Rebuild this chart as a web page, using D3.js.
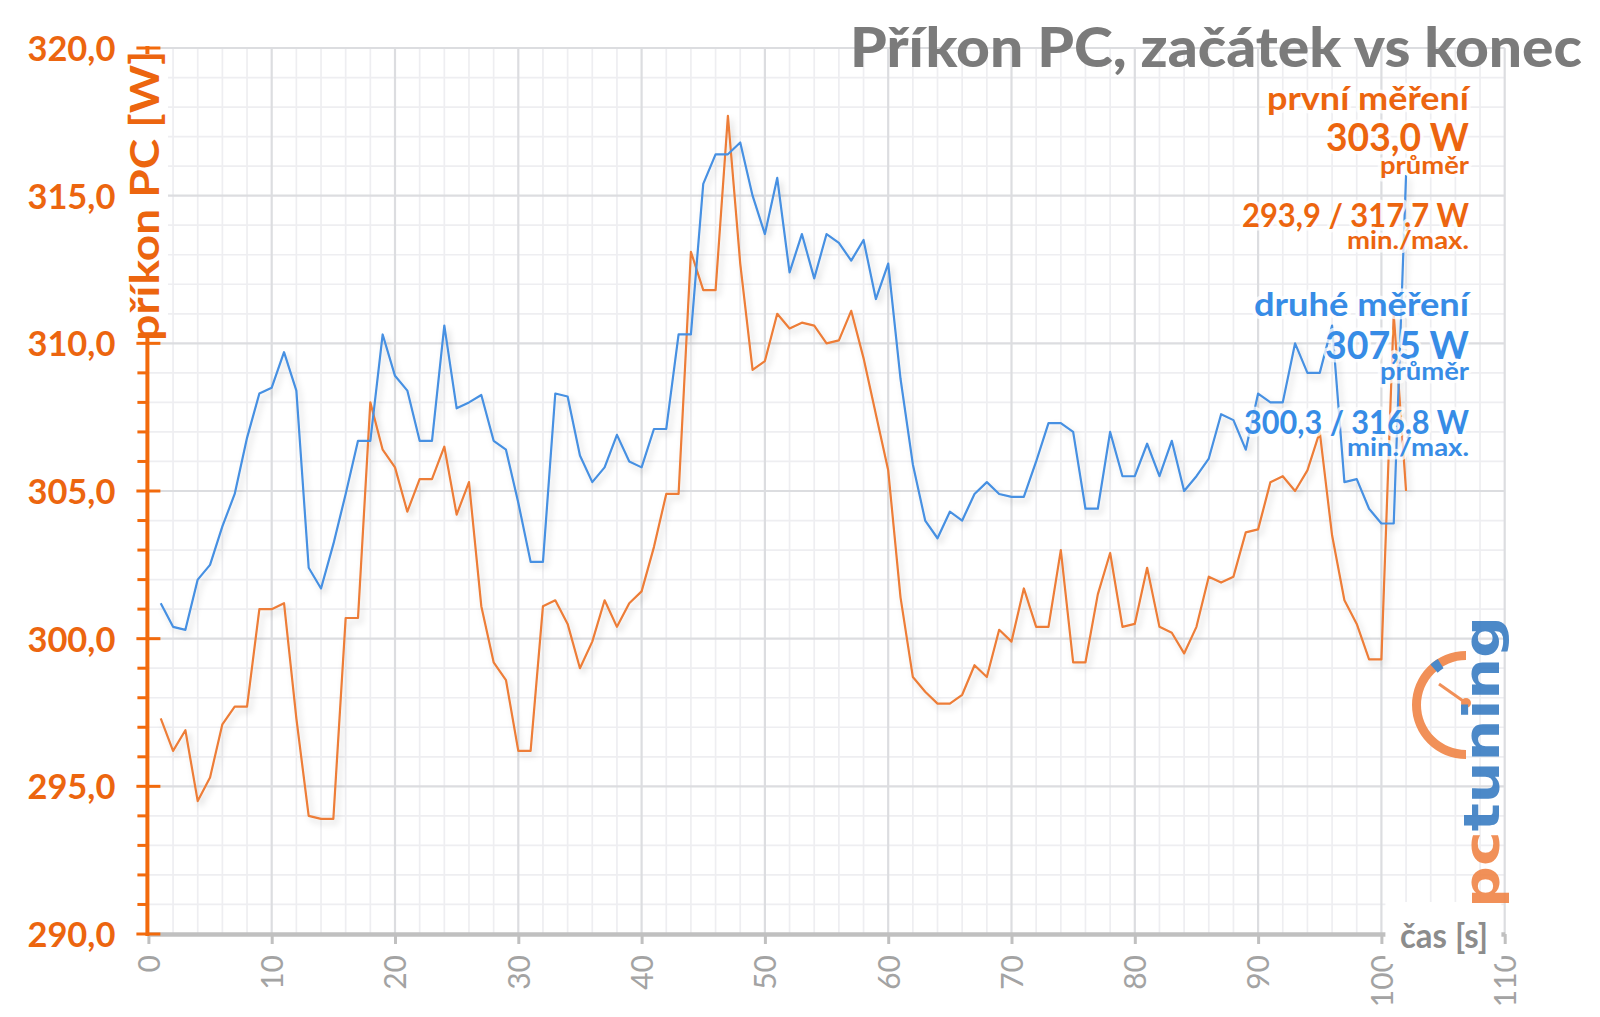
<!DOCTYPE html>
<html><head><meta charset="utf-8">
<script src="https://cdn.jsdelivr.net/npm/d3@7"></script>
<style>body{margin:0;background:#fff;} svg{display:block;}</style>
</head><body>
<svg id="chart" width="1600" height="1017"></svg>
<script>
// ---------- data ----------
const seconds = d3.range(1, 103);
const firstRun = [297.3,296.2,296.9,294.5,295.3,297.1,297.7,297.7,301.0,301.0,
  301.2,297.3,294.0,293.9,293.9,300.7,300.7,308.0,306.4,305.8,
  304.3,305.4,305.4,306.5,304.2,305.3,301.1,299.2,298.6,296.2,
  296.2,301.1,301.3,300.5,299.0,299.9,301.3,300.4,301.2,301.6,
  303.1,304.9,304.9,313.1,311.8,311.8,317.7,312.7,309.1,309.4,
  311.0,310.5,310.7,310.6,310.0,310.1,311.1,309.5,307.6,305.7,
  301.4,298.7,298.2,297.8,297.8,298.1,299.1,298.7,300.3,299.9,
  301.7,300.4,300.4,303.0,299.2,299.2,301.5,302.9,300.4,300.5,
  302.4,300.4,300.2,299.5,300.4,302.1,301.9,302.1,303.6,303.7,
  305.3,305.5,305.0,305.7,307.0,303.5,301.3,300.5,299.3,299.3,
  311.0,305.0];
const secondRun = [301.2,300.4,300.3,302.0,302.5,303.8,304.9,306.8,308.3,308.5,
  309.7,308.4,302.4,301.7,303.2,304.9,306.7,306.7,310.3,308.9,
  308.4,306.7,306.7,310.6,307.8,308.0,308.25,306.7,306.4,304.6,
  302.6,302.6,308.3,308.2,306.2,305.3,305.8,306.9,306.0,305.8,
  307.1,307.1,310.3,310.3,315.4,316.4,316.4,316.8,315.0,313.7,
  315.6,312.4,313.7,312.2,313.7,313.4,312.8,313.5,311.5,312.7,
  308.8,305.9,304.0,303.4,304.3,304.0,304.9,305.3,304.9,304.8,
  304.8,306.0,307.3,307.3,307.0,304.4,304.4,307.0,305.5,305.5,
  306.6,305.5,306.7,305.0,305.5,306.1,307.6,307.4,306.4,308.3,
  308.0,308.0,310.0,309.0,309.0,310.6,305.3,305.4,304.4,303.9,
  303.9,315.7];
const xTicks = [0,10,20,30,40,50,60,70,80,90,100,110];
const yTicks = [290,295,300,305,310,315,320];
const yTickLabels = ["290,0","295,0","300,0","305,0","310,0","315,0","320,0"];
const titleText = "Příkon PC, začátek vs konec";
const yTitle = "příkon PC [W]";
const xTitle = "čas [s]";
const legendFirst = ["první měření","303,0 W","průměr","293,9 / 317,7 W","min./max."];
const legendSecond = ["druhé měření","307,5 W","průměr","300,3 / 316,8 W","min./max."];
const logoParts = ["pc","tuning"];

// ---------- setup ----------
const ORANGE_TXT = "#EC650F", BLUE_TXT = "#378CE6";
const ORANGE_LN = "#ED7D37", BLUE_LN = "#4690E2";
const svg = d3.select("#chart");
const x = d3.scaleLinear().domain([0,110]).range([148.4,1504.7]);
const y = d3.scaleLinear().domain([290,320]).range([934,48]);
const FONT = "Lato, 'Open Sans', sans-serif";

const defs = svg.append("defs");
const sh = defs.append("filter").attr("id","shadow").attr("x","-5%").attr("y","-5%").attr("width","110%").attr("height","110%");
sh.append("feDropShadow").attr("dx",3).attr("dy",4).attr("stdDeviation",3)
  .attr("flood-color","#000").attr("flood-opacity",0.16);

// ---------- grid ----------
const grid = svg.append("g");
grid.selectAll("line.vmin").data(d3.range(0,111,2).filter(d=>d%10)).join("line")
  .attr("x1",d=>x(d)).attr("x2",d=>x(d)).attr("y1",y(320)).attr("y2",y(290))
  .attr("stroke","#eeeef1").attr("stroke-width",1.7);
grid.selectAll("line.hmin").data(d3.range(290,321,1).filter(d=>d%5)).join("line")
  .attr("y1",d=>y(d)).attr("y2",d=>y(d)).attr("x1",x(0)).attr("x2",x(110))
  .attr("stroke","#eeeef1").attr("stroke-width",1.7);
grid.selectAll("line.vmaj").data(xTicks.slice(1)).join("line")
  .attr("x1",d=>x(d)).attr("x2",d=>x(d)).attr("y1",y(320)).attr("y2",y(290))
  .attr("stroke","#dcdde0").attr("stroke-width",2.2);
grid.selectAll("line.hmaj").data(yTicks.slice(1)).join("line")
  .attr("y1",d=>y(d)).attr("y2",d=>y(d)).attr("x1",x(0)).attr("x2",x(110))
  .attr("stroke","#dcdde0").attr("stroke-width",2.2);

// ---------- title ----------
svg.append("text").text(titleText)
  .attr("x",1582).attr("y",67).attr("text-anchor","end")
  .attr("textLength",732).attr("lengthAdjust","spacingAndGlyphs")
  .style("font-family",FONT).style("font-weight",900).style("font-size","56px")
  .style("fill","#7b7b7b");

// ---------- lines ----------
const line = d3.line().x((d,i)=>x(seconds[i])).y(d=>y(d));
const lines = svg.append("g").attr("filter","url(#shadow)");
lines.append("path").datum(firstRun).attr("d",line)
  .attr("fill","none").attr("stroke",ORANGE_LN).attr("stroke-width",2.2).attr("stroke-linejoin","round");
lines.append("path").datum(secondRun).attr("d",line)
  .attr("fill","none").attr("stroke",BLUE_LN).attr("stroke-width",2.2).attr("stroke-linejoin","round");

// ---------- x axis ----------
const xAxis = d3.axisBottom(x).tickValues(xTicks).tickSizeInner(10).tickSizeOuter(0).tickFormat(d3.format("d"));
const gx = svg.append("g").attr("transform",`translate(0,${y(290)})`).call(xAxis);
gx.select(".domain").attr("stroke","#c0c0c0").attr("stroke-width",4.5);
gx.selectAll(".tick line").attr("stroke","#c0c0c0").attr("stroke-width",3);
gx.selectAll(".tick text")
  .attr("transform","rotate(-90)").attr("x",-21).attr("y",0).attr("dy","0.36em")
  .style("text-anchor","end").style("font-family",FONT).style("font-size","30px")
  .style("fill","#a3a3a3");

// x title with white box
const xtG = svg.append("g");
xtG.append("rect").attr("x",x(100)+4).attr("y",902).attr("width",116).attr("height",62).attr("fill","#fff");
xtG.append("text").text(xTitle).attr("x",1400).attr("y",948)
  .attr("textLength",88).attr("lengthAdjust","spacingAndGlyphs")
  .style("font-family",FONT).style("font-weight",700).style("font-size","35px").style("fill","#8c8c8c");

// ---------- y axis ----------
const yAxis = d3.axisLeft(y).tickValues(yTicks).tickFormat((d,i)=>yTickLabels[i]).tickSize(0).tickPadding(32);
const gy = svg.append("g").attr("transform",`translate(${x(0)-1},0)`).call(yAxis);
gy.select(".domain").remove();
gy.selectAll(".tick text").style("font-family",FONT).style("font-weight",700)
  .style("font-size","35px").style("fill",ORANGE_TXT).attr("dy","0.36em")
  .attr("textLength",88).attr("lengthAdjust","spacingAndGlyphs");
const ax = x(0)-1;
svg.append("line").attr("x1",ax).attr("x2",ax).attr("y1",y(320)-2).attr("y2",y(290)+2)
  .attr("stroke","#F26A0C").attr("stroke-width",4);
svg.selectAll("line.ymin").data(d3.range(290,321,1).filter(d=>d%5)).join("line")
  .attr("x1",ax-10).attr("x2",ax).attr("y1",d=>y(d)).attr("y2",d=>y(d))
  .attr("stroke","#F26A0C").attr("stroke-width",3);
svg.selectAll("line.ymaj").data(yTicks).join("line")
  .attr("x1",ax-11).attr("x2",ax+13).attr("y1",d=>y(d)).attr("y2",d=>y(d))
  .attr("stroke","#F26A0C").attr("stroke-width",3);

// y title with white box
svg.append("rect").attr("x",126).attr("y",y(320)+6).attr("width",42).attr("height",y(310)-y(320)-12).attr("fill","#fff");
svg.append("text").text(yTitle)
  .attr("transform",`translate(159,${(y(320)+y(310))/2}) rotate(-90)`)
  .attr("text-anchor","middle").attr("textLength",290).attr("lengthAdjust","spacingAndGlyphs")
  .style("font-family",FONT).style("font-weight",700).style("font-size","40px").style("fill",ORANGE_TXT);

// ---------- legend ----------
const legendLayout = [
  {size:32,len:202,base:110},{size:39,len:143,base:151},{size:25,len:89,base:173.5},
  {size:32,len:227,base:226.5},{size:25,len:122,base:249}];
const legendLayout2 = [
  {size:32,len:215,base:316},{size:39,len:144,base:359},{size:25,len:89,base:379.5},
  {size:32,len:225,base:433.7},{size:25,len:122,base:456}];
function drawLegend(texts, layout, color){
  const g = svg.append("g");
  texts.forEach((t,i)=>{
    const L = layout[i];
    g.append("text").text(t).attr("x",1469).attr("y",L.base).attr("text-anchor","end")
      .attr("textLength",L.len).attr("lengthAdjust","spacingAndGlyphs")
      .style("font-family",FONT).style("font-weight",700).style("font-size",L.size+"px")
      .style("fill",color).style("stroke","#fff").style("stroke-opacity",0.75)
      .style("stroke-width",7).style("stroke-linejoin","round").style("paint-order","stroke");
  });
}
drawLegend(legendFirst, legendLayout, ORANGE_TXT);
drawLegend(legendSecond, legendLayout2, BLUE_TXT);

// ---------- logo ----------
const logo = svg.append("g").attr("opacity",0.92);
const cx = 1466, cy = 705;
logo.append("path").attr("transform",`translate(${cx},${cy})`)
  .attr("d", d3.arc().innerRadius(45).outerRadius(54).startAngle(Math.PI).endAngle(2*Math.PI)())
  .attr("fill","#F0874A");
logo.append("path").attr("transform",`translate(${cx},${cy})`)
  .attr("d", d3.arc().innerRadius(43).outerRadius(54).startAngle(-0.72).endAngle(-0.55)())
  .attr("fill","#3D7FC4");
logo.append("line").attr("x1",cx).attr("y1",cy-2).attr("x2",cx-27).attr("y2",cy-21)
  .attr("stroke","#F0874A").attr("stroke-width",3);
logo.append("circle").attr("cx",cx).attr("cy",cy-2).attr("r",5).attr("fill","#F0874A");
const lt = logo.append("text").attr("transform","translate(1499,908) rotate(-90)")
  .attr("textLength",292).attr("lengthAdjust","spacingAndGlyphs")
  .style("font-family","'DejaVu Sans', sans-serif").style("font-weight",700).style("font-size","50px");
lt.append("tspan").text(logoParts[0]).style("fill","#F0874A");
lt.append("tspan").text(logoParts[1]).style("fill","#3D7FC4");
</script>
</body></html>
